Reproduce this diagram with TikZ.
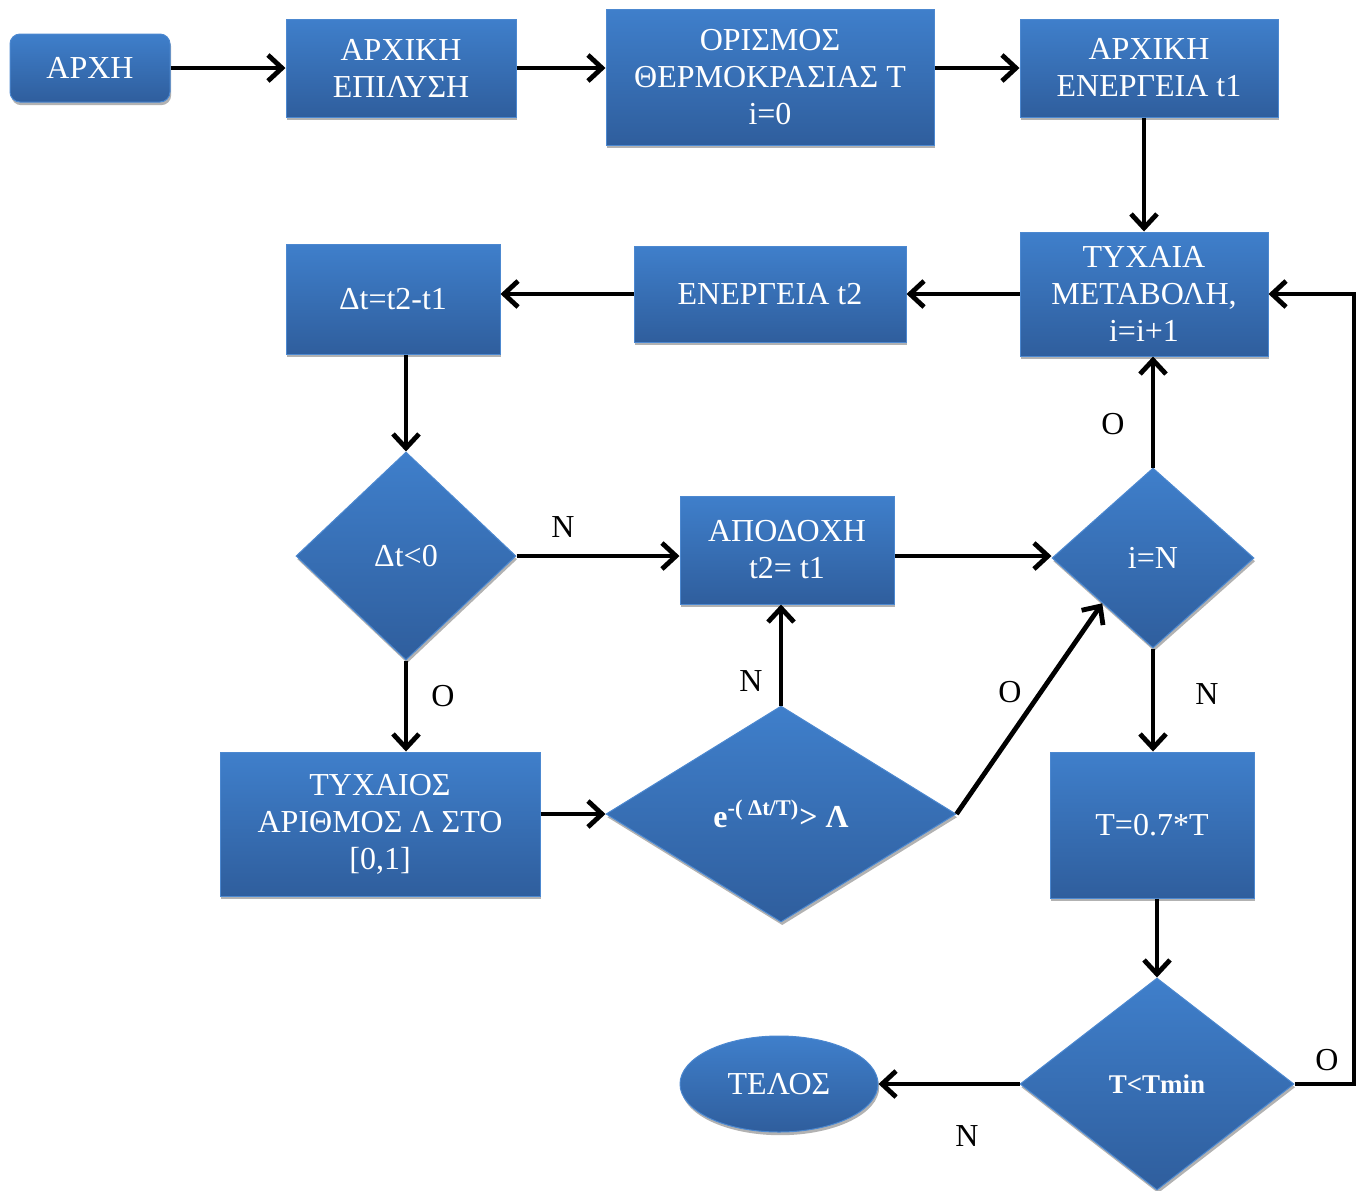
\documentclass[tikz,border=0pt]{standalone}
\usepackage{fontspec}
\setmainfont{Liberation Serif}
\usetikzlibrary{shapes.geometric,arrows.meta,shadows,calc}

\definecolor{azulA}{HTML}{3F7FCB}
\definecolor{azulB}{HTML}{2F5E9D}
\definecolor{borde}{HTML}{4C88D0}

\begin{document}
\begin{tikzpicture}[x=0.5pt,y=-0.5pt,
  bloque/.style={top color=azulA, bottom color=azulB, draw=borde, line width=0.5pt,
    text=white, align=center, inner sep=0pt, font=\fontsize{16}{18.5}\selectfont,
    drop shadow={shadow xshift=0.6pt, shadow yshift=-1.6pt, opacity=0.3, fill=black}},
  caja/.style={bloque, rectangle},
  rombo/.style={bloque, diamond},
  flecha/.style={line width=2.4pt, -{Straight Barb[length=7pt,width=13pt,line width=2.4pt]}},
  etiqueta/.style={font=\fontsize{16}{18}\selectfont}]

\useasboundingbox (0,0) rectangle (1360,1190);

% Fila superior
\node[caja, rounded corners=5pt, minimum width=80pt, minimum height=34pt] (inicio) at (90,68) {ΑΡΧΗ};
\node[caja, minimum width=115pt, minimum height=49pt] (epilysi) at (401,68) {ΑΡΧΙΚΗ\\ΕΠΙΛΥΣΗ};
\node[caja, minimum width=164pt, minimum height=68pt] (thermo) at (770,77) {ΟΡΙΣΜΟΣ\\ΘΕΡΜΟΚΡΑΣΙΑΣ Τ\\i=0};
\node[caja, minimum width=129pt, minimum height=49pt] (enerini) at (1149,68) {ΑΡΧΙΚΗ\\ΕΝΕΡΓΕΙΑ t1};

% Segunda fila
\node[caja, minimum width=124pt, minimum height=62pt] (metavoli) at (1144,294) {ΤΥΧΑΙΑ\\ΜΕΤΑΒΟΛΗ,\\i=i+1};
\node[caja, minimum width=136pt, minimum height=48pt] (enert2) at (770,294) {ΕΝΕΡΓΕΙΑ t2};
\node[caja, minimum width=107pt, minimum height=55pt] (diafora) at (393,299) {Δt=t2-t1};

% Condiciones
\node[rombo, minimum width=110pt, minimum height=104pt] (condD) at (406,556) {Δt<0};
\node[caja, minimum width=107pt, minimum height=54pt] (apodoxi) at (787,550) {ΑΠΟΔΟΧΗ\\t2= t1};
\node[rombo, minimum width=101pt, minimum height=90pt] (condN) at (1153,558) {i=N};

\node[caja, minimum width=160pt, minimum height=72pt] (arithmos) at (380,824) {ΤΥΧΑΙΟΣ\\ΑΡΙΘΜΟΣ Λ ΣΤΟ\\{[0,1]}};
\node[rombo, minimum width=175pt, minimum height=108pt, font=\fontsize{16}{18}\selectfont\bfseries] (expo) at (781,814) {e\textsuperscript{-( Δt/T)}> Λ};
\node[caja, minimum width=102pt, minimum height=73pt] (meiosi) at (1152,825) {T=0.7*T};

% Final
\node[rombo, minimum width=137pt, minimum height=106pt, font=\fontsize{13.5}{16}\selectfont\bfseries] (condT) at (1157,1084) {T<Tmin};
\node[bloque, ellipse, minimum width=99pt, minimum height=48pt] (telos) at (779,1084) {ΤΕΛΟΣ};

% Flechas
\draw[flecha] (inicio) -- (epilysi);
\draw[flecha] (epilysi) -- (thermo.west |- epilysi);
\draw[flecha] (thermo.east |- enerini) -- (enerini);
\draw[flecha] (enerini.south -| metavoli.north) -- (metavoli.north);
\draw[flecha] (metavoli) -- (enert2);
\draw[flecha] (enert2.west) -- (enert2.west -| diafora.east);
\draw[flecha] (diafora.south -| condD.north) -- (condD.north);
\draw[flecha] (condD.east) -- (condD.east -| apodoxi.west);
\draw[flecha] (condD.south) -- (condD.south |- arithmos.north);
\draw[flecha] (arithmos.east |- expo) -- (expo.west);
\draw[flecha] (expo.north) -- (expo.north |- apodoxi.south);
\draw[flecha] (expo.east) -- ($(condN.west)!0.5!(condN.south)$);
\draw[flecha] (apodoxi.east |- condD) -- (condN.west |- condD);
\draw[flecha] (condN.north) -- (condN.north |- metavoli.south);
\draw[flecha] (condN.south) -- (condN.south |- meiosi.north);
\draw[flecha] (meiosi.south -| condT.north) -- (condT.north);
\draw[flecha] (condT.west) -- (telos.east);
\coordinate (retorno) at (1354,1084);
\draw[flecha] (condT.east) -- (retorno) |- (metavoli.east);

% Etiquetas
\node[etiqueta] (lblD1) at (563,527) {Ν};
\node[etiqueta] (lblD2) at (443,696) {Ο};
\node[etiqueta] (lblE1) at (751,681) {Ν};
\node[etiqueta] (lblE2) at (1010,692) {Ο};
\node[etiqueta] (lblN1) at (1113,424) {Ο};
\node[etiqueta] (lblN2) at (1207,694) {Ν};
\node[etiqueta] (lblT1) at (967,1136) {Ν};
\node[etiqueta] (lblT2) at (1327,1060) {Ο};

\end{tikzpicture}
\end{document}
